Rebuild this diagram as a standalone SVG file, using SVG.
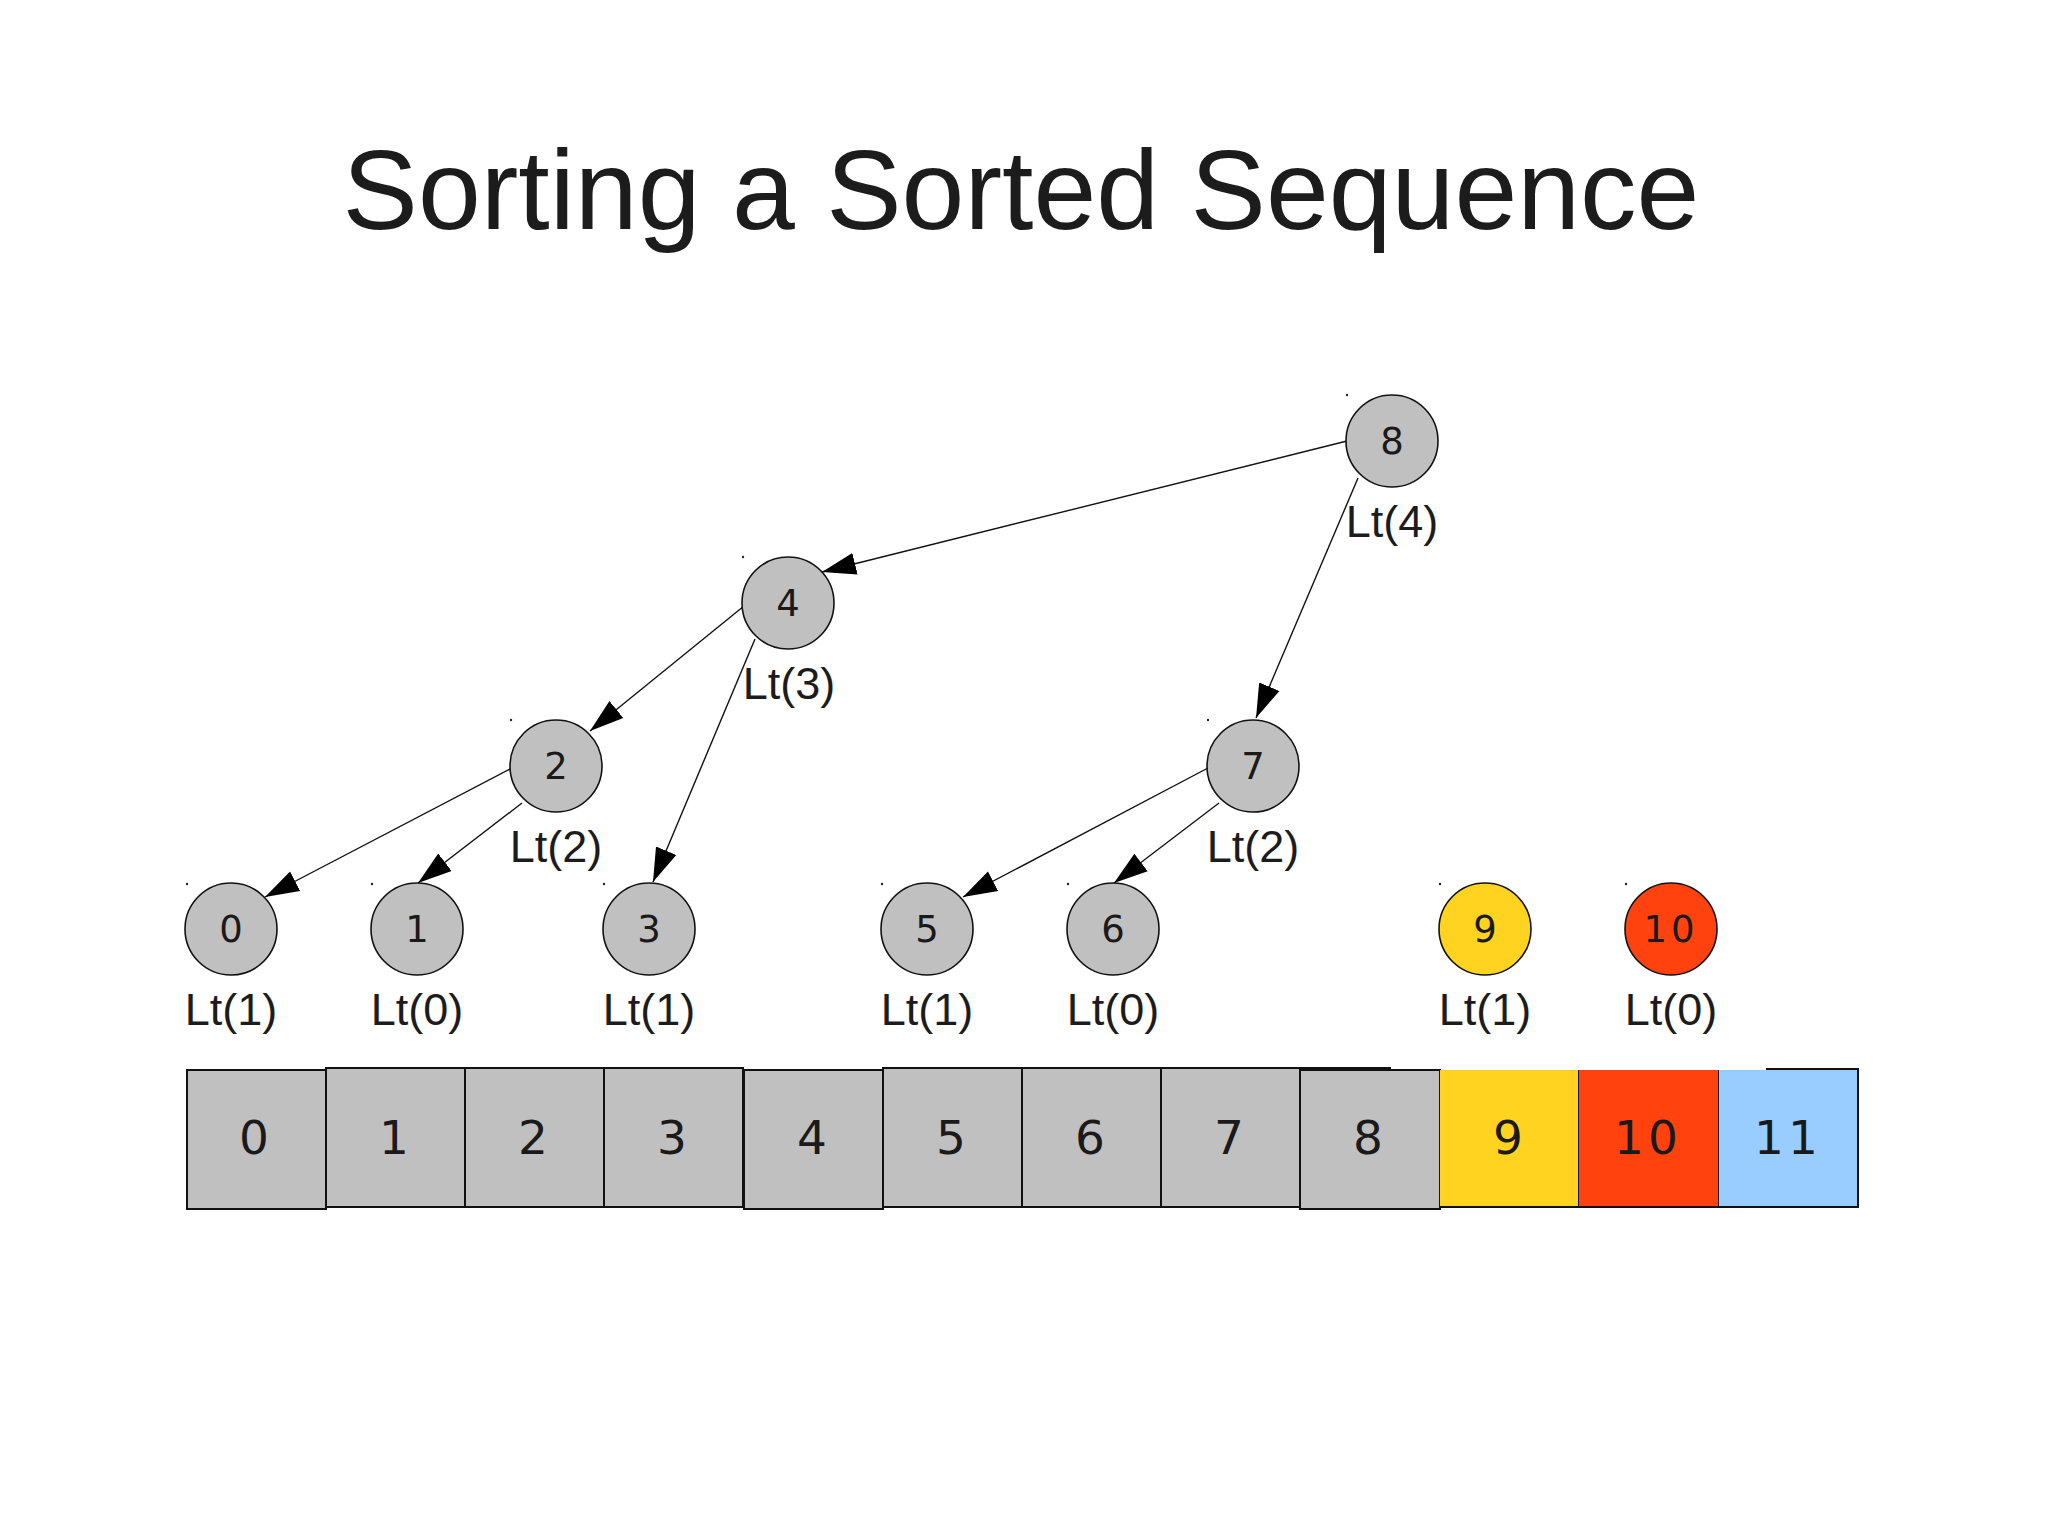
<svg xmlns="http://www.w3.org/2000/svg" width="2048" height="1536" viewBox="0 0 2048 1536">
<style>
.title{font-family:"Liberation Sans",Arial,sans-serif;font-size:113px;fill:#1c1c1c;text-anchor:middle}
.nd{stroke:#111;stroke-width:1.6}
.gray{fill:#c0c0c0}
.yel{fill:#ffd320}
.red{fill:#ff420e}
.blu{fill:#99ccff}
.num{font-family:"DejaVu Sans",sans-serif;font-size:37px;fill:#1a1a1a;text-anchor:middle}
.lt{font-family:"Liberation Sans",Arial,sans-serif;font-size:45px;fill:#1c1c1c;text-anchor:middle}
.anum{font-family:"DejaVu Sans",sans-serif;font-size:47px;fill:#1a1a1a;text-anchor:middle}
.edge{stroke:#111;stroke-width:1.4;fill:none;marker-end:url(#ah)}
.box{stroke:#111;stroke-width:2}
.dot{fill:#222}
</style>
<defs>
<marker id="ah" viewBox="0 -12 34 24" markerWidth="34" markerHeight="24" refX="34" refY="0" orient="auto" markerUnits="userSpaceOnUse">
<path d="M0,-11 L34,0 L0,11 z" fill="#000"/>
</marker>
</defs>
<rect width="2048" height="1536" fill="#fff"/>
<text class="title" x="1021" y="229">Sorting a Sorted Sequence</text>

<g id="connectors">
<line class="edge" x1="1347" y1="441" x2="822" y2="572"/>
<line class="edge" x1="1358" y1="478" x2="1256" y2="718"/>
<line class="edge" x1="744" y1="606" x2="590" y2="731"/>
<line class="edge" x1="755" y1="639" x2="653" y2="882"/>
<line class="edge" x1="512" y1="768" x2="265" y2="897"/>
<line class="edge" x1="522" y1="803" x2="418" y2="883"/>
<line class="edge" x1="1208" y1="768" x2="963" y2="897"/>
<line class="edge" x1="1219" y1="803" x2="1114" y2="883"/>
</g>

<g id="node-8"><circle class="dot" cx="1347" cy="395" r="1.2"/><circle class="nd gray" cx="1392" cy="441" r="46"/><text class="num" x="1392" y="454">8</text><text class="lt" x="1392" y="537">Lt(4)</text></g>
<g id="node-4"><circle class="dot" cx="743" cy="557" r="1.2"/><circle class="nd gray" cx="788" cy="603" r="46"/><text class="num" x="788" y="616">4</text><text class="lt" x="789" y="699">Lt(3)</text></g>
<g id="node-2"><circle class="dot" cx="511" cy="720" r="1.2"/><circle class="nd gray" cx="556" cy="766" r="46"/><text class="num" x="556" y="779">2</text><text class="lt" x="556" y="862">Lt(2)</text></g>
<g id="node-7"><circle class="dot" cx="1208" cy="720" r="1.2"/><circle class="nd gray" cx="1253" cy="766" r="46"/><text class="num" x="1253" y="779">7</text><text class="lt" x="1253" y="862">Lt(2)</text></g>
<g id="node-0"><circle class="dot" cx="187" cy="884" r="1.2"/><circle class="nd gray" cx="231" cy="929" r="46"/><text class="num" x="231" y="942">0</text><text class="lt" x="231" y="1025">Lt(1)</text></g>
<g id="node-1"><circle class="dot" cx="372" cy="884" r="1.2"/><circle class="nd gray" cx="417" cy="929" r="46"/><text class="num" x="417" y="942">1</text><text class="lt" x="417" y="1025">Lt(0)</text></g>
<g id="node-3"><circle class="dot" cx="604" cy="884" r="1.2"/><circle class="nd gray" cx="649" cy="929" r="46"/><text class="num" x="649" y="942">3</text><text class="lt" x="649" y="1025">Lt(1)</text></g>
<g id="node-5"><circle class="dot" cx="882" cy="884" r="1.2"/><circle class="nd gray" cx="927" cy="929" r="46"/><text class="num" x="927" y="942">5</text><text class="lt" x="927" y="1025">Lt(1)</text></g>
<g id="node-6"><circle class="dot" cx="1068" cy="884" r="1.2"/><circle class="nd gray" cx="1113" cy="929" r="46"/><text class="num" x="1113" y="942">6</text><text class="lt" x="1113" y="1025">Lt(0)</text></g>
<g id="node-9"><circle class="dot" cx="1440" cy="884" r="1.2"/><circle class="nd yel" cx="1485" cy="929" r="46"/><text class="num" x="1485" y="942">9</text><text class="lt" x="1485" y="1025">Lt(1)</text></g>
<g id="node-10"><circle class="dot" cx="1626" cy="884" r="1.2"/><circle class="nd red" cx="1671" cy="929" r="46"/><text class="num" x="1671" y="942" letter-spacing="4">10</text><text class="lt" x="1671" y="1025">Lt(0)</text></g>

<g id="array">
<g id="cell-1"><rect class="box gray" x="326" y="1068" width="139" height="139"/><text class="anum" x="394" y="1154">1</text></g>
<g id="cell-2"><rect class="box gray" x="465" y="1068" width="139" height="139"/><text class="anum" x="533" y="1154">2</text></g>
<g id="cell-3"><rect class="box gray" x="604" y="1068" width="139" height="139"/><text class="anum" x="672" y="1154">3</text></g>
<g id="cell-5"><rect class="box gray" x="883" y="1068" width="139" height="139"/><text class="anum" x="951" y="1154">5</text></g>
<g id="cell-6"><rect class="box gray" x="1022" y="1068" width="139" height="139"/><text class="anum" x="1090" y="1154">6</text></g>
<g id="cell-7"><rect class="box gray" x="1161" y="1068" width="139" height="139"/><text class="anum" x="1229" y="1154">7</text></g>
<g id="cell-0"><rect class="box gray" x="187" y="1070" width="139" height="139"/><text class="anum" x="254" y="1154">0</text></g>
<g id="cell-4"><rect class="box gray" x="744" y="1070" width="139" height="139"/><text class="anum" x="812" y="1154">4</text></g>
<g id="cell-8"><rect class="box gray" x="1300" y="1070" width="140" height="139"/><line x1="1300" y1="1068" x2="1391" y2="1068" stroke="#111" stroke-width="2"/><text class="anum" x="1368" y="1154">8</text></g>
<g id="cell-9"><rect class="yel" x="1440" y="1070" width="139" height="137"/><path d="M1440,1207 L1579,1207 L1579,1070" fill="none" stroke="#111" stroke-width="2"/><text class="anum" x="1508" y="1154">9</text></g>
<g id="cell-10"><rect class="red" x="1579" y="1070" width="140" height="137"/><path d="M1579,1207 L1719,1207 L1719,1070" fill="none" stroke="#111" stroke-width="2"/><text class="anum" x="1648" y="1154" letter-spacing="4">10</text></g>
<g id="cell-11"><rect class="blu" x="1719" y="1070" width="139" height="137"/><path d="M1719,1207 L1858,1207 L1858,1069 L1766,1069" fill="none" stroke="#111" stroke-width="2"/><text class="anum" x="1788" y="1154" letter-spacing="4">11</text></g>
</g>
</svg>
